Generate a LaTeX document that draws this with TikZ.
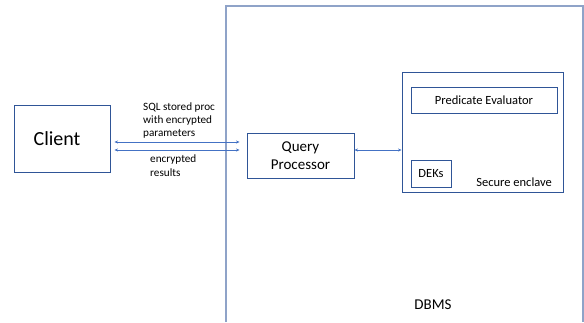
\documentclass[tikz,border=0pt]{standalone}
\usepackage{fontspec}
\setmainfont{Carlito}
\usetikzlibrary{arrows.meta, positioning}
\definecolor{boxblue}{HTML}{2F5597}
\definecolor{linkblue}{HTML}{4472C4}
\definecolor{dbmsblue}{HTML}{8FA3C8}

\begin{document}
\begin{tikzpicture}[x=1pt, y=-1pt, >={Stealth[length=3.5pt, width=3pt]},
  block/.style={draw=boxblue, line width=0.9pt, rectangle, inner sep=0pt, align=center, font=\fontsize{12.5}{15}\selectfont},
  link/.style={<->, draw=linkblue, line width=0.8pt},
  lbl/.style={font=\fontsize{11.2}{13.3}\selectfont, align=left, inner sep=0pt}]

  \useasboundingbox (0,0) rectangle (584,322);

  % DBMS frame (runs off the bottom)
  \draw[dbmsblue, line width=1.2pt] (226,322) |- (583,6) -- (583,322);

  % Boxes
  \node [block, minimum width=96pt, minimum height=67pt, font=\fontsize{20}{24}\selectfont] (client) at (62,138.5) {\hspace*{-10pt}Client};
  \node [block, minimum width=107pt, minimum height=45pt, font=\fontsize{15}{18}\selectfont] (qp) at (300.5,155.5) {Query\\Processor};
  \node [block, minimum width=161pt, minimum height=120pt] (encl) at (482.5,132) {};
  \node [block, minimum width=146pt, minimum height=26pt, below right=15pt and 9pt of encl.north west] (pred) {Predicate Evaluator};
  \node [block, minimum width=40pt, minimum height=27pt, above right=5pt and 9pt of encl.south west] (deks) {DEKs};

  % Texts
  \node [anchor=east, font=\fontsize{12.5}{15}\selectfont] (sec) at ([xshift=-8pt, yshift=10pt]encl.south east) {Secure enclave};
  \node [font=\fontsize{15}{18}\selectfont] (dbms) at (433,305) {DBMS};
  \node [lbl, anchor=south west] (req) at (143,139) {SQL stored proc\\with encrypted\\parameters};
  \node [lbl, anchor=north west] (resp) at (150,155) {encrypted\\results};

  % Connectors
  \draw [link, shorten <=4pt, shorten >=7pt] ([yshift=-3.5pt]client.east) -- ([yshift=-3.5pt]client.east -| qp.west);
  \draw [link, shorten <=4pt, shorten >=7pt] ([yshift=-11.5pt]client.east) -- ([yshift=-11.5pt]client.east -| qp.west);
  \draw [link] ([yshift=5.5pt]qp.east) -- ([yshift=5.5pt]qp.east -| encl.west);
\end{tikzpicture}
\end{document}
